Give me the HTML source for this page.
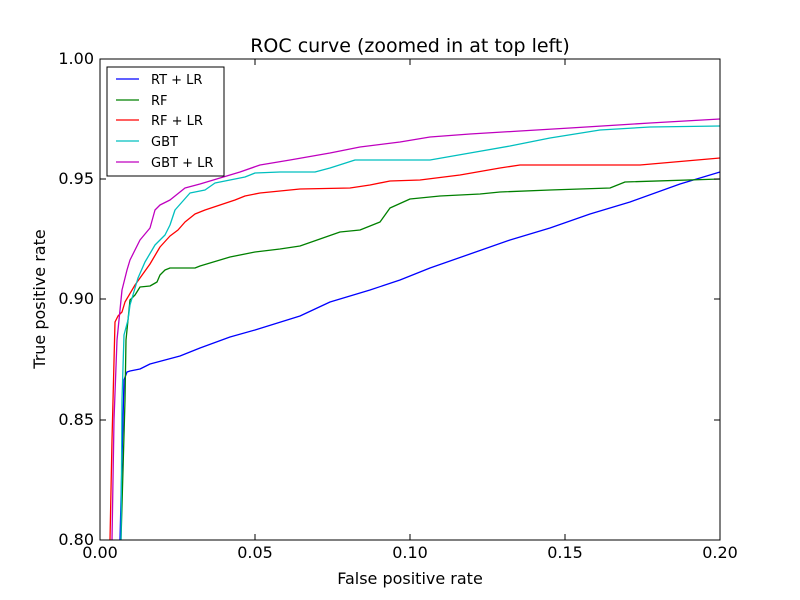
<!DOCTYPE html>
<html><head><meta charset="utf-8"><style>body{margin:0;background:#fff}svg{display:block}text{font-family:"DejaVu Sans","Liberation Sans",sans-serif}</style></head><body>
<svg width="800" height="600" viewBox="0 0 800 600">
<rect width="800" height="600" fill="#fff"/>
<g fill="none" stroke-width="1.3" stroke-linejoin="round">
<polyline stroke="#0000ff" points="120,540 122,460 124,380 127,372 130,371 140,369 150,364 165,360 180,356 200,348 230,337 255,330 300,316 330,302 370,290 400,280 430,268 470,254 510,240 550,228 590,214 630,202 680,184 720,172"/>
<polyline stroke="#008000" points="121,540 123,470 125,400 126,340 130,300 135,295 140,287 150,286 157,282 160,275 165,270 170,268 195,268 200,266 230,257 255,252 280,249 300,246 320,239 340,232 360,230 380,222 390,208 410,199 440,196 480,194 500,192 550,190 610,188 625,182 720,179"/>
<polyline stroke="#ff0000" points="110,540 112,440 115,322 118,316 122,312 125,302 135,285 150,264 160,247 170,236 178,230 185,222 195,214 205,210 220,205 235,200 245,196 260,193 280,191 300,189 350,188 370,185 390,181 420,180 460,175 500,168 520,165 550,165 640,165 720,158"/>
<polyline stroke="#00bfbf" points="121,540 122,400 124,335 128,320 130,305 138,278 145,262 155,245 165,235 170,225 175,210 190,193 205,190 215,183 230,180 245,177 255,173 280,172 315,172 330,168 355,160 430,160 470,153 510,146 550,138 600,130 650,127 720,126"/>
<polyline stroke="#bf00bf" points="112,540 114,420 117,340 122,290 127,270 130,260 140,240 150,228 155,210 160,205 170,200 185,188 200,184 220,178 240,172 260,165 290,160 330,153 360,147 400,142 430,137 470,134 520,131 570,128 650,123 720,119"/>
</g>
<rect x="100" y="59" width="620" height="481" fill="none" stroke="#000" stroke-width="1"/>
<g stroke="#000" stroke-width="1">
<path d="M255,540v-6M410,540v-6M565,540v-6M255,59v6M410,59v6M565,59v6M100,420h6M100,299h6M100,179h6M720,420h-6M720,299h-6M720,179h-6"/>
</g>
<g font-size="16" text-anchor="middle">
<text x="100" y="558">0.00</text><text x="255" y="558">0.05</text><text x="410" y="558">0.10</text><text x="565" y="558">0.15</text><text x="720" y="558">0.20</text>
</g>
<g font-size="16" text-anchor="end">
<text x="94" y="545">0.80</text><text x="94" y="425">0.85</text><text x="94" y="304">0.90</text><text x="94" y="184">0.95</text><text x="94" y="64">1.00</text>
</g>
<text x="410" y="584" font-size="16" text-anchor="middle">False positive rate</text>
<text transform="translate(45,299) rotate(-90)" font-size="16" text-anchor="middle">True positive rate</text>
<text x="410" y="52" font-size="19" text-anchor="middle">ROC curve (zoomed in at top left)</text>
<rect x="107" y="67" width="117" height="109" fill="#fff" stroke="#000"/>
<g stroke-width="1.3">
<line x1="116" y1="79" x2="139" y2="79" stroke="#0000ff"/>
<line x1="116" y1="100" x2="139" y2="100" stroke="#008000"/>
<line x1="116" y1="120" x2="139" y2="120" stroke="#ff0000"/>
<line x1="116" y1="141" x2="139" y2="141" stroke="#00bfbf"/>
<line x1="116" y1="162" x2="139" y2="162" stroke="#bf00bf"/>
</g>
<g font-size="13">
<text x="151" y="84">RT + LR</text><text x="151" y="105">RF</text><text x="151" y="125">RF + LR</text><text x="151" y="146">GBT</text><text x="151" y="167">GBT + LR</text>
</g>
</svg>
</body></html>
